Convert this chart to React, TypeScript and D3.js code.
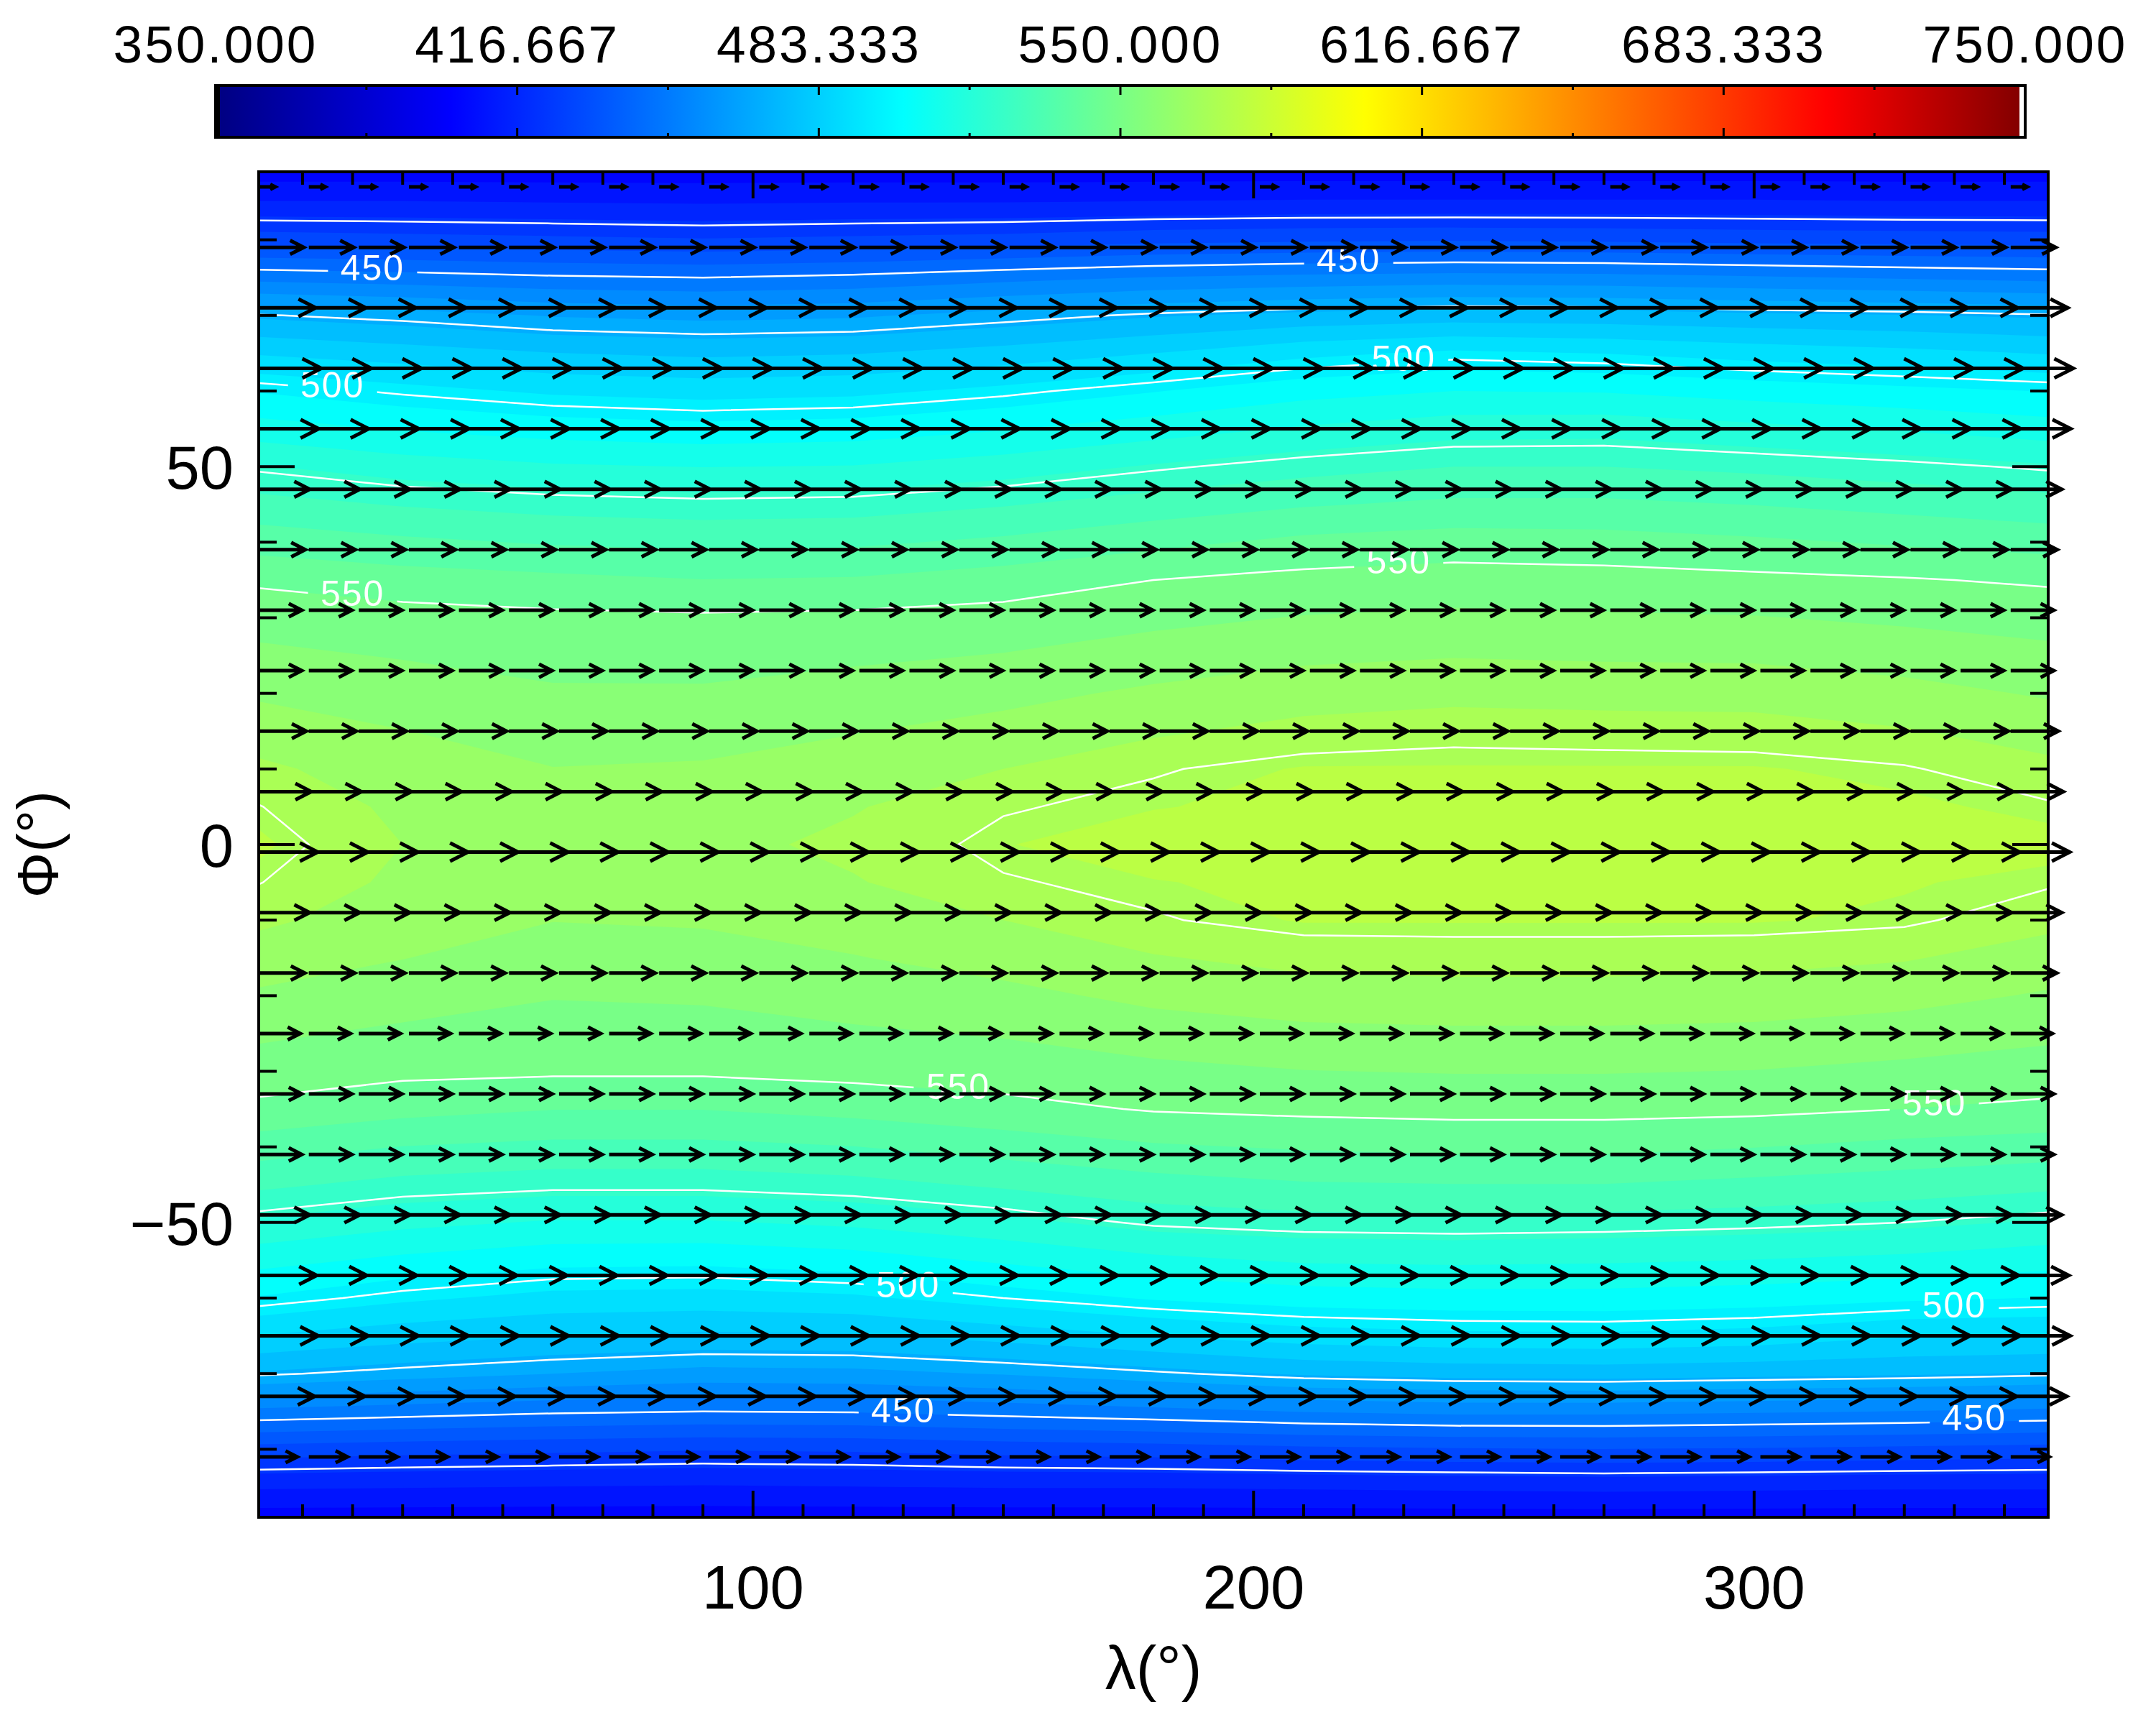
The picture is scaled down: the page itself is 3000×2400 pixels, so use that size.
import React from "react";
import * as d3 from "d3";

// ---------------- data ----------------
// temperature grid (K): rows = latitude (GRID_LATS), columns = longitude 0..330 step 30 (360 wraps to 0)
const GRID_LONS = [0, 30, 60, 90, 120, 150, 180, 210, 240, 270, 300, 330, 360];
const GRID_LATS = [90, 85, 80, 75, 70, 65, 60, 55, 50, 45, 40, 35, 30, 20, 15, 10, 5, 0, -5, -10, -15, -20, -30, -35, -40, -45, -50, -55, -60, -65, -70, -75, -80, -85, -90];
const TEMP: number[][] = [
  [404, 404, 404, 404, 404, 404, 404, 404, 404, 404, 404, 404],
  [417, 417, 416.5, 416, 416.5, 416.5, 417, 417.5, 417.5, 417.5, 417.5, 417],
  [433.5, 432.5, 431.5, 430.5, 431.5, 432.5, 434.5, 435.5, 436, 435.5, 434.5, 434],
  [454.5, 453, 451, 450, 451.5, 454.5, 457, 458.5, 459.5, 459, 457.5, 456],
  [475.5, 473, 469.5, 468, 469, 472.5, 476, 478.5, 480, 479.5, 478, 477],
  [489.5, 486.5, 483.5, 482, 483, 486, 490, 495, 498, 496.5, 494, 492],
  [503, 499, 495.5, 494, 495, 498.5, 503, 507.5, 510, 509.5, 507, 505],
  [513, 509.5, 507, 505.5, 506.5, 509.5, 513.5, 517.5, 520.5, 521, 518.5, 516],
  [524, 520, 517.5, 516.5, 517, 520, 524, 527.5, 530, 530, 528.5, 526.5],
  [532.5, 529.5, 527.5, 526.5, 527, 529.5, 533, 536, 538, 538, 536.5, 534.5],
  [540.5, 538, 536, 535, 535.5, 538, 541.5, 545, 546.5, 546, 544.5, 542.5],
  [549, 546.5, 545, 543.5, 544, 546.5, 550, 552, 553, 552.5, 551.5, 550.5],
  [554, 552.5, 551.5, 551, 551.5, 552.5, 555, 557, 558, 557.5, 557, 555.5],
  [562.5, 560, 557.5, 557.5, 559.5, 561.5, 564.5, 567, 568, 567.5, 567.5, 565.5],
  [567, 563.5, 560.5, 561, 563, 565.5, 569, 572, 573.5, 573, 572.5, 570.5],
  [571.5, 566.5, 563.5, 564, 566.5, 570, 574.5, 577, 577, 577, 577, 575.5],
  [575.5, 568.5, 566, 566.5, 569.5, 574.5, 576.5, 577.5, 578, 578, 578, 577.5],
  [578, 570, 567.5, 568, 571.5, 576.5, 578.5, 579.5, 580, 580, 580, 579.5],
  [575.5, 568.5, 566, 566.5, 569.5, 574.5, 576.5, 577.5, 578, 578, 578, 577],
  [571.5, 566.5, 563.5, 564, 566.5, 570, 574.5, 577, 577, 577, 577, 576],
  [567, 563.5, 560, 561, 563, 566, 569.5, 572, 572.5, 572.5, 572, 570.5],
  [562.5, 559.5, 557, 557.5, 559.5, 561.5, 565, 567, 567.5, 567.5, 567, 565.5],
  [553.5, 551.5, 551, 551, 552, 553, 555, 556.5, 557, 557, 556.5, 555],
  [548.5, 545.5, 543.5, 543.5, 545.5, 548, 550.5, 551.5, 552, 552, 551.5, 550],
  [540, 536.5, 535, 535, 536.5, 539.5, 542.5, 544, 545, 545, 543.5, 541.5],
  [531.5, 528, 526.5, 526.5, 528, 531, 534, 536, 536.5, 536.5, 535, 533.5],
  [522.5, 518.5, 516, 516, 518, 521.5, 526, 527.5, 528, 527.5, 526.5, 525],
  [512.5, 508.5, 505.5, 505, 507, 511, 515, 517.5, 518, 517.5, 516.5, 515],
  [503, 498, 494.5, 494, 495.5, 500, 504, 506.5, 507.5, 507.5, 506.5, 504.5],
  [490, 486, 483.5, 482, 482.5, 486, 490, 493.5, 495, 495.5, 494, 490.5],
  [476, 473, 470, 467.5, 468, 470.5, 474, 477.5, 479, 479.5, 478.5, 477.5],
  [455, 453, 451, 450, 450.5, 452.5, 454.5, 457, 458.5, 458.5, 457.5, 456.5],
  [434, 432.5, 431.5, 430.5, 431, 432.5, 433.5, 435, 436, 436.5, 436, 435],
  [417.5, 417, 416.5, 416, 416.5, 417, 417, 417.5, 418, 418.5, 418, 417.5],
  [404, 404, 404, 404, 404, 404, 404, 404, 404, 404, 404, 404],
];

// wind vectors: zonal wind per row (m/s), eastward
const ARROW_LATS = [87, 79, 71, 63, 55, 47, 39, 31, 23, 15, 7, -1, -9, -17, -25, -33, -41, -49, -57, -65, -73, -81];
const ARROW_U = [33, 90, 114, 125, 120, 102, 93, 86, 86, 95, 105, 118, 102, 92, 83, 86, 86, 102, 116, 119, 112, 77];
const ARROW_LONS = d3.range(1.25, 360, 10);
const DEG_PER_MS = 0.1;

// contour settings
const FILL_MIN = 350;
const FILL_MAX = 750;
const N_FILL = 60;
const LINE_LEVELS = [425, 450, 475, 500, 525, 550, 575];
const LABELS = [
  { level: 450, lon: 24, hemi: 1 }, { level: 450, lon: 219, hemi: 1 },
  { level: 500, lon: 16, hemi: 1 }, { level: 500, lon: 230, hemi: 1 },
  { level: 550, lon: 20, hemi: 1 }, { level: 550, lon: 229, hemi: 1 },
  { level: 550, lon: 141, hemi: -1 }, { level: 550, lon: 336, hemi: -1 },
  { level: 500, lon: 131, hemi: -1 }, { level: 500, lon: 340, hemi: -1 },
  { level: 450, lon: 130, hemi: -1 }, { level: 450, lon: 344, hemi: -1 },
];

// axes
const LON_DOMAIN = [1.25, 358.75];
const LAT_DOMAIN = [89, -89];
const X_TICKS = d3.range(10, 360, 10);
const X_MAJOR = [100, 200, 300];
const Y_TICKS = d3.range(-80, 90, 10);
const Y_MAJOR = [-50, 0, 50];
const CBAR_VALUES = [350, 416.667, 483.333, 550, 616.667, 683.333, 750];
const CBAR_LABELS = ["350.000", "416.667", "483.333", "550.000", "616.667", "683.333", "750.000"];

// colour table (jet-like, as in the reference colour bar)
const JET_POS = [0, 0.13, 0.38, 0.635, 0.89, 1];
const JET_COL = ["#000080", "#0000ff", "#00ffff", "#ffff00", "#ff0000", "#800000"];

// ---------------- layout ----------------
const W = 3000, H = 2400;
const P = { left: 360, right: 2850, top: 239, bottom: 2111 };
const CB = { left: 300, right: 2818, top: 119, bottom: 191 };
const FONT = "'Liberation Sans', Arial, sans-serif";

export default function App() {
  const x = d3.scaleLinear().domain(LON_DOMAIN).range([P.left, P.right]);
  const y = d3.scaleLinear().domain(LAT_DOMAIN).range([P.top, P.bottom]);
  const jet = d3.scaleLinear<string>().domain(JET_POS).range(JET_COL).interpolate(d3.interpolateRgb);
  const colorOf = (v: number) => jet((v - FILL_MIN) / (FILL_MAX - FILL_MIN));
  const cbX = d3.scaleLinear().domain([FILL_MIN, FILL_MAX]).range([CB.left, CB.right]);

  const nx = GRID_LONS.length, ny = GRID_LATS.length;
  const values: number[] = [];
  for (let j = 0; j < ny; j++) for (let i = 0; i < nx; i++) values.push(TEMP[j][i % (nx - 1)]);
  const ixLon = d3.scaleLinear().domain(d3.range(nx)).range(GRID_LONS);
  const iyLat = d3.scaleLinear().domain(d3.range(ny)).range(GRID_LATS);
  const proj = (p: number[]) => [x(ixLon(p[0] - 0.5)), y(iyLat(p[1] - 0.5))];

  const ringPath = (ring: number[][]) =>
    "M" + ring.map((p) => proj(p).map((v) => v.toFixed(1)).join(",")).join("L") + "Z";
  const geomPath = (g: any) => g.coordinates.map((poly: number[][][]) => poly.map(ringPath).join("")).join("");

  const fillThresholds = d3.range(N_FILL).map((k) => FILL_MIN + (k * (FILL_MAX - FILL_MIN)) / N_FILL);
  const fills = d3.contours().size([nx, ny]).thresholds(fillThresholds)(values).filter((c: any) => c.coordinates.length > 0);
  const lines = d3.contours().size([nx, ny]).thresholds(LINE_LEVELS)(values);

  // label placement: find contour crossing at label longitude
  const labelPos = LABELS.map((lb) => {
    const lx = x(lb.lon);
    const geom = lines.find((c: any) => c.value === lb.level);
    let best: number | null = null;
    if (geom) {
      geom.coordinates.forEach((poly: number[][][]) =>
        poly.forEach((ring) => {
          const pts = ring.map(proj);
          for (let k = 0; k < pts.length - 1; k++) {
            const [xa, ya] = pts[k];
            const [xb, yb] = pts[k + 1];
            if (xa === xb) continue;
            if ((lx - xa) * (lx - xb) <= 0) {
              const yy = ya + ((lx - xa) / (xb - xa)) * (yb - ya);
              if (yy < P.top || yy > P.bottom) continue;
              const north = yy < y(0);
              if ((lb.hemi > 0) === north) best = yy;
            }
          }
        })
      );
    }
    return { ...lb, x: lx, y: best ?? y(0) };
  });

  const arrowPaths: string[] = [];
  ARROW_LATS.forEach((lat, r) => {
    const u = ARROW_U[r];
    ARROW_LONS.forEach((lon) => {
      const x0 = x(lon), y0 = y(lat);
      const x1 = x(lon + u * DEG_PER_MS), y1 = y0;
      const L = Math.hypot(x1 - x0, y1 - y0);
      const ang = Math.atan2(y1 - y0, x1 - x0);
      const h = 0.34 * L, a = (27 * Math.PI) / 180;
      const bx1 = x1 - h * Math.cos(ang - a), by1 = y1 - h * Math.sin(ang - a);
      const bx2 = x1 - h * Math.cos(ang + a), by2 = y1 - h * Math.sin(ang + a);
      arrowPaths.push(
        `M${x0.toFixed(1)},${y0.toFixed(1)}L${x1.toFixed(1)},${y1.toFixed(1)}M${bx1.toFixed(1)},${by1.toFixed(1)}L${x1.toFixed(1)},${y1.toFixed(1)}L${bx2.toFixed(1)},${by2.toFixed(1)}`
      );
    });
  });

  const cbTicks = d3.range(1, 12).map((k) => ({ x: CB.left + (k * (CB.right - CB.left)) / 12, major: k % 2 === 0 }));

  return (
    <svg width={W} height={H} style={{ position: "absolute", left: 0, top: 0, background: "#fff" }} fontFamily={FONT}>
      <defs>
        <clipPath id="plotclip">
          <rect x={P.left} y={P.top} width={P.right - P.left} height={P.bottom - P.top} />
        </clipPath>
        <linearGradient id="jetgrad" x1="0" x2="1" y1="0" y2="0">
          {JET_POS.map((p, i) => (
            <stop key={i} offset={p} stopColor={JET_COL[i]} />
          ))}
        </linearGradient>
        <mask id="lblmask" maskUnits="userSpaceOnUse" x={0} y={0} width={W} height={H}>
          <rect x={0} y={0} width={W} height={H} fill="#fff" />
          {labelPos.map((l, i) => (
            <rect key={i} x={l.x - 62} y={l.y - 26} width={124} height={50} fill="#000" />
          ))}
        </mask>
      </defs>
      <rect x={0} y={0} width={W} height={H} fill="#fff" />

      {/* colorbar */}
      <rect x={CB.left} y={CB.top} width={CB.right - CB.left} height={CB.bottom - CB.top} fill="url(#jetgrad)" />
      <rect x={CB.left} y={CB.top} width={6} height={CB.bottom - CB.top} fill="#000" />
      <rect x={CB.right - 8} y={CB.top} width={8} height={CB.bottom - CB.top} fill="#fff" />
      <rect x={CB.left} y={CB.top} width={CB.right - CB.left} height={CB.bottom - CB.top} fill="none" stroke="#000" strokeWidth={4} />
      {cbTicks.map((t, i) => (
        <g key={i} stroke="#000" strokeWidth={3}>
          <line x1={t.x} x2={t.x} y1={CB.top} y2={CB.top + (t.major ? 13 : 6)} />
          <line x1={t.x} x2={t.x} y1={CB.bottom} y2={CB.bottom - (t.major ? 13 : 6)} />
        </g>
      ))}
      {CBAR_VALUES.map((v, i) => (
        <text key={i} x={cbX(v)} y={87} fontSize={73} letterSpacing={3} textAnchor="middle" fill="#000">
          {CBAR_LABELS[i]}
        </text>
      ))}

      {/* filled contours */}
      <g clipPath="url(#plotclip)">
        {fills.map((c: any, i: number) => (
          <path key={i} d={geomPath(c)} fill={colorOf(c.value)} fillRule="evenodd" />
        ))}
        <g mask="url(#lblmask)">
          {lines.map((c: any, i: number) => (
            <path key={i} d={geomPath(c)} fill="none" stroke="#fff" strokeWidth={2.5} />
          ))}
        </g>
        {labelPos.map((l, i) => (
          <text key={i} x={l.x} y={l.y + 12} fontSize={50} letterSpacing={2} textAnchor="middle" fill="#fff">
            {l.level}
          </text>
        ))}
      </g>

      {/* ticks */}
      <g stroke="#000" strokeWidth={4}>
        {X_TICKS.map((v) => {
          const len = X_MAJOR.includes(v) ? 37 : 18;
          return (
            <g key={"x" + v}>
              <line x1={x(v)} x2={x(v)} y1={P.bottom} y2={P.bottom - len} />
              <line x1={x(v)} x2={x(v)} y1={P.top} y2={P.top + len} />
            </g>
          );
        })}
        {Y_TICKS.map((v) => {
          const len = Y_MAJOR.includes(v) ? 50 : 25;
          return (
            <g key={"y" + v}>
              <line x1={P.left} x2={P.left + len} y1={y(v)} y2={y(v)} />
              <line x1={P.right} x2={P.right - len} y1={y(v)} y2={y(v)} />
            </g>
          );
        })}
      </g>

      {/* arrows */}
      <path d={arrowPaths.join("")} fill="none" stroke="#000" strokeWidth={5} strokeLinejoin="miter" />

      {/* frame */}
      <rect x={P.left} y={P.top} width={P.right - P.left} height={P.bottom - P.top} fill="none" stroke="#000" strokeWidth={4} />

      {/* tick labels */}
      {X_MAJOR.map((v) => (
        <text key={v} x={x(v)} y={2238} fontSize={85} textAnchor="middle" fill="#000">
          {v}
        </text>
      ))}
      {Y_MAJOR.map((v) => (
        <text key={v} x={325} y={y(v) + 31} fontSize={85} textAnchor="end" fill="#000">
          {v < 0 ? "\u2212" + Math.abs(v) : String(v)}
        </text>
      ))}
      <text x={(P.left + P.right) / 2} y={2350} fontSize={86} textAnchor="middle" fill="#000">
        λ(°)
      </text>
      <text transform={`translate(80, ${y(0)}) rotate(-90)`} fontSize={80} textAnchor="middle" fill="#000">
        Φ(°)
      </text>
    </svg>
  );
}
